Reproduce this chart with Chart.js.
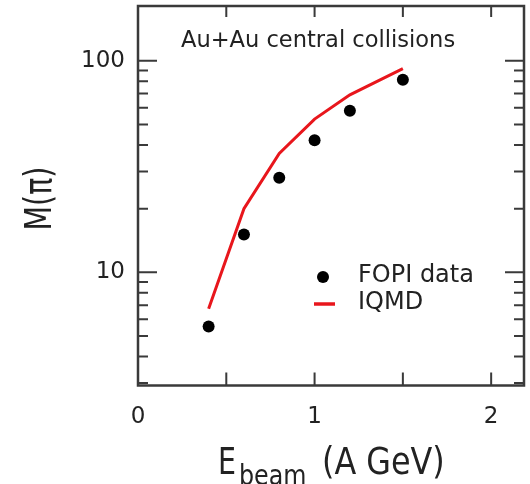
<!DOCTYPE html>
<html>
<head>
<meta charset="utf-8">
<script src="https://cdn.jsdelivr.net/npm/chart.js@4/dist/chart.umd.min.js"></script>
<style>
html,body{margin:0;padding:0;background:#fff;}
canvas{display:block;}
</style>
</head>
<body>
<canvas id="c" width="530" height="484"></canvas>
<script>
// ---- data ----
const fopiEnergy = [0.4, 0.6, 0.8, 1.0, 1.2, 1.5];
const fopiMultiplicity = [5.55, 15.1, 28.0, 42.1, 58.1, 81.3];
const iqmdEnergy = [0.4, 0.6, 0.8, 1.0, 1.2, 1.5];
const iqmdMultiplicity = [6.73, 20.0, 36.5, 53.0, 69.0, 91.7];

const xTickValues = [0, 1, 2];
const xTickLabels = ['0', '1', '2'];
const xTickMarks = [0.5, 1, 1.5, 2];
const yTickValues = [10, 100];
const yTickLabels = ['10', '100'];
const yMajorMarks = [10, 100];
const yMinorMarks = [3, 4, 5, 6, 7, 8, 9, 20, 30, 40, 50, 60, 70, 80, 90];

const seriesNames = ['FOPI data', 'IQMD'];
const plotTitle = 'Au+Au central collisions';

const TEXT = '#222';
const FONT = 'DejaVu Sans';

function drawScaledText(ctx, txt, x, y, size, sx, align) {
  ctx.save();
  ctx.font = size + 'px "' + FONT + '"';
  ctx.textAlign = align || 'left';
  ctx.textBaseline = 'alphabetic';
  ctx.translate(x, y);
  ctx.scale(sx, 1);
  ctx.fillText(txt, 0, 0);
  ctx.restore();
}

function noPad(s) {
  s.paddingTop = 0; s.paddingBottom = 0; s.paddingLeft = 0; s.paddingRight = 0;
}

const decor = {
  id: 'decor',
  afterDraw(chart) {
    const ctx = chart.ctx;
    const a = chart.chartArea;
    const xs = chart.scales.x, ys = chart.scales.y;
    ctx.save();
    // frame
    ctx.strokeStyle = '#3a3a3a';
    ctx.lineWidth = 2.5;
    ctx.strokeRect(a.left, a.top, a.right - a.left, a.bottom - a.top);
    // y ticks (inward, both sides)
    ctx.lineWidth = 2;
    const yt = (v, len) => {
      const p = ys.getPixelForValue(v);
      ctx.beginPath();
      ctx.moveTo(a.left, p); ctx.lineTo(a.left + len, p);
      ctx.moveTo(a.right, p); ctx.lineTo(a.right - len, p);
      ctx.stroke();
    };
    yMajorMarks.forEach(v => yt(v, 19));
    yMinorMarks.forEach(v => yt(v, 10));
    // x ticks (inward, bottom and top)
    xTickMarks.forEach(v => {
      const p = xs.getPixelForValue(v);
      ctx.beginPath();
      ctx.moveTo(p, a.bottom); ctx.lineTo(p, a.bottom - 13);
      ctx.moveTo(p, a.top); ctx.lineTo(p, a.top + 11);
      ctx.stroke();
    });
    ctx.restore();

    ctx.save();
    ctx.fillStyle = TEXT;
    // title in plot
    drawScaledText(ctx, plotTitle, 181, 47, 23, 0.98, 'left');
    // legend
    const d0 = chart.data.datasets[0], d1 = chart.data.datasets[1];
    ctx.fillStyle = d0.backgroundColor;
    ctx.beginPath(); ctx.arc(323, 277, 6, 0, Math.PI * 2); ctx.fill();
    ctx.strokeStyle = d1.borderColor;
    ctx.lineWidth = 3.5;
    ctx.beginPath(); ctx.moveTo(314, 304); ctx.lineTo(335, 304); ctx.stroke();
    ctx.fillStyle = TEXT;
    drawScaledText(ctx, seriesNames[0], 358, 282, 24, 1, 'left');
    drawScaledText(ctx, seriesNames[1], 358, 309, 24, 1, 'left');
    // x axis title  E_beam (A GeV)
    drawScaledText(ctx, 'E', 218, 474, 37, 0.77, 'left');
    drawScaledText(ctx, 'beam', 239, 485, 28, 0.85, 'left');
    drawScaledText(ctx, '(A GeV)', 322, 474, 37, 0.86, 'left');
    // y axis title M(π)
    ctx.save();
    ctx.translate(51, 198.5);
    ctx.rotate(-Math.PI / 2);
    drawScaledText(ctx, 'M(\u03C0)', 0, 0, 37, 0.77, 'center');
    ctx.restore();
    ctx.restore();
  }
};

new Chart(document.getElementById('c'), {
  type: 'scatter',
  data: {
    datasets: [
      {
        label: seriesNames[0],
        data: fopiEnergy.map((x, i) => ({x: x, y: fopiMultiplicity[i]})),
        backgroundColor: '#000',
        borderColor: '#000',
        pointRadius: 6,
        pointBorderWidth: 0,
        showLine: false
      },
      {
        label: seriesNames[1],
        type: 'line',
        data: iqmdEnergy.map((x, i) => ({x: x, y: iqmdMultiplicity[i]})),
        borderColor: '#e8161c',
        backgroundColor: '#e8161c',
        borderWidth: 3,
        pointRadius: 0,
        tension: 0,
        fill: false
      }
    ]
  },
  options: {
    responsive: false,
    animation: false,
    devicePixelRatio: 1,
    layout: {padding: {top: 6, right: 1, bottom: 0, left: 0}},
    plugins: {legend: {display: false}, tooltip: {enabled: false}},
    scales: {
      x: {
        type: 'linear',
        min: 0,
        max: 2.186,
        afterBuildTicks: s => { s.ticks = xTickValues.map(v => ({value: v})); },
        afterFit: s => { s.height = 98.5; noPad(s); },
        grid: {display: false, drawTicks: false},
        border: {display: false},
        ticks: {
          autoSkip: false,
          maxRotation: 0,
          padding: 18,
          color: TEXT,
          font: {family: FONT, size: 23},
          callback: (v, i) => xTickLabels[i]
        }
      },
      y: {
        type: 'logarithmic',
        min: 2.92,
        max: 181.4,
        afterBuildTicks: s => { s.ticks = yTickValues.map(v => ({value: v})); },
        afterFit: s => { s.width = 138; noPad(s); },
        grid: {display: false, drawTicks: false},
        border: {display: false},
        ticks: {
          autoSkip: false,
          padding: 13,
          color: TEXT,
          font: {family: FONT, size: 23},
          callback: (v, i) => yTickLabels[i]
        }
      }
    }
  },
  plugins: [decor]
});
</script>
</body>
</html>
